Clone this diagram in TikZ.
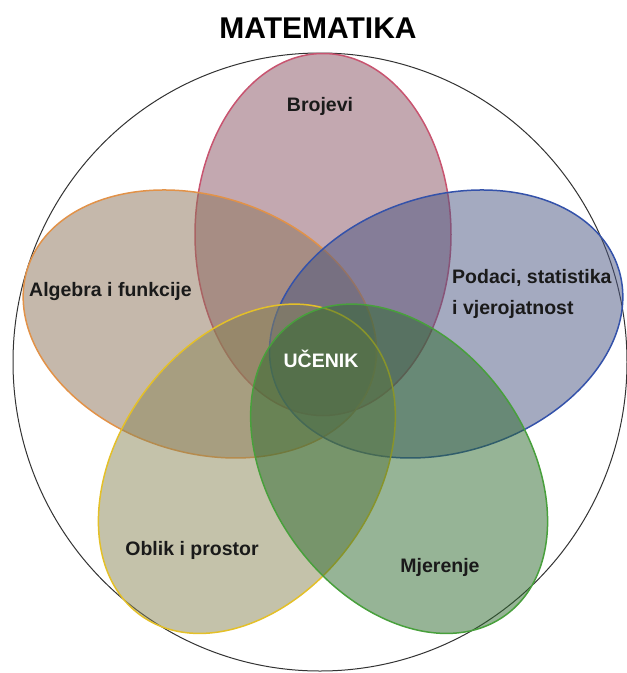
\documentclass[tikz,border=0pt]{standalone}
\usepackage{fontspec}
\setmainfont{Liberation Sans}
\definecolor{pinkf}{RGB}{135,81,97}
\definecolor{orangef}{RGB}{140,114,88}
\definecolor{bluef}{RGB}{73,85,129}
\definecolor{yellowf}{RGB}{137,133,85}
\definecolor{greenf}{RGB}{45,105,45}
\definecolor{pinkd}{RGB}{200,84,112}
\definecolor{oranged}{RGB}{226,146,72}
\definecolor{blued}{RGB}{52,82,170}
\definecolor{yellowd}{RGB}{228,192,40}
\definecolor{greend}{RGB}{72,160,60}
\definecolor{txt}{RGB}{26,26,26}
\tikzset{
  petal/.style={line width=1.5pt, fill opacity=0.5},
  lbl/.style={inner sep=0pt, text=txt, font=\fontsize{19.5}{31}\selectfont\bfseries},
}
\begin{document}
\begin{tikzpicture}[x=1pt,y=1pt]
\useasboundingbox (0,0) rectangle (627,-673);
% outer circle
\draw[line width=1pt, black!80] (320,-362) ellipse [x radius=307, y radius=309];
% petals
\begin{scope}[shift={(323,-364)}]
  \begin{scope}[rotate=90]
    \draw[petal, draw=pinkd, fill=pinkf] (129.5,0) ellipse [x radius=181, y radius=128];
  \end{scope}
  \begin{scope}[rotate=162]
    \draw[petal, draw=oranged, fill=orangef] (129.5,0) ellipse [x radius=181, y radius=128];
  \end{scope}
  \begin{scope}[rotate=18]
    \draw[petal, draw=blued, fill=bluef] (129.5,0) ellipse [x radius=181, y radius=128];
  \end{scope}
  \begin{scope}[rotate=234]
    \draw[petal, draw=yellowd, fill=yellowf] (129.5,0) ellipse [x radius=181, y radius=128];
  \end{scope}
  \begin{scope}[rotate=306]
    \draw[petal, draw=greend, fill=greenf] (129.5,0) ellipse [x radius=181, y radius=128];
  \end{scope}
\end{scope}
% title
\node[inner sep=0pt, anchor=base, font=\fontsize{30}{36}\selectfont\bfseries] (title) at (318,-38.5) {MATEMATIKA};
% labels
\node[lbl, anchor=base] (brojevi) at (320,-111) {Brojevi};
\node[lbl, anchor=base] (algebra) at (110.5,-296) {Algebra i funkcije};
\node[lbl, anchor=base west, align=left] (podaci) at (452,-314) {Podaci, statistika\\i vjerojatnost};
\node[lbl, anchor=base, text=white] (ucenik) at (321,-367) {UČENIK};
\node[lbl, anchor=base] (oblik) at (192,-555) {Oblik i prostor};
\node[lbl, anchor=base] (mjerenje) at (440,-572) {Mjerenje};
\end{tikzpicture}
\end{document}
